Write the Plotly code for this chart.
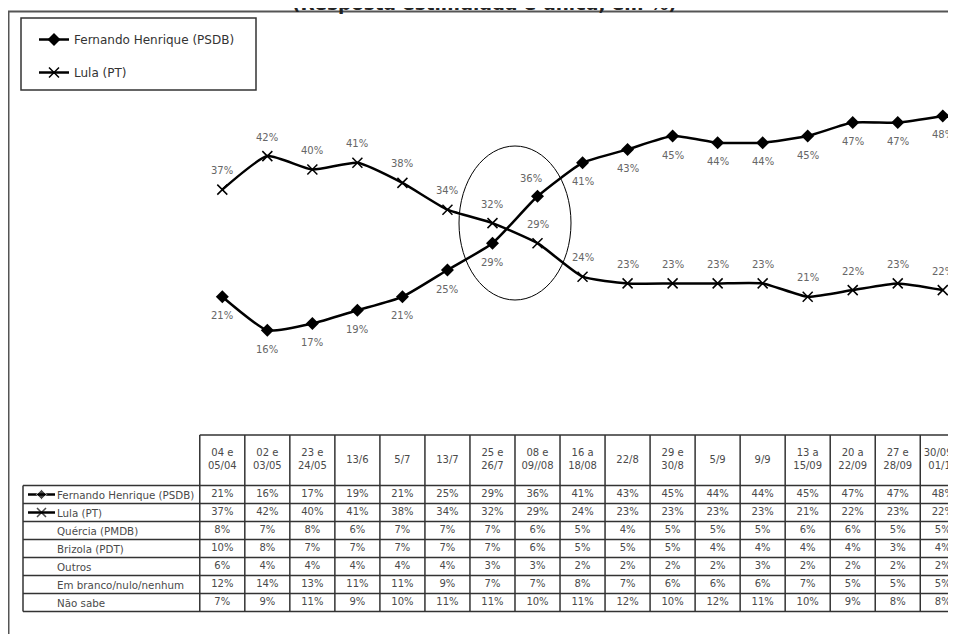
import plotly.graph_objects as go

# ---------------- data ----------------
dates = ["04 e<br>05/04", "02 e<br>03/05", "23 e<br>24/05", "13/6", "5/7", "13/7",
         "25 e<br>26/7", "08 e<br>09//08", "16 a<br>18/08", "22/8", "29 e<br>30/8",
         "5/9", "9/9", "13 a<br>15/09", "20 a<br>22/09", "27 e<br>28/09", "30/09 a<br>01/10"]
fh = [21, 16, 17, 19, 21, 25, 29, 36, 41, 43, 45, 44, 44, 45, 47, 47, 48]
lula = [37, 42, 40, 41, 38, 34, 32, 29, 24, 23, 23, 23, 23, 21, 22, 23, 22]
quercia = [8, 7, 8, 6, 7, 7, 7, 6, 5, 4, 5, 5, 5, 6, 6, 5, 5]
brizola = [10, 8, 7, 7, 7, 7, 7, 6, 5, 5, 5, 4, 4, 4, 4, 3, 4]
outros = [6, 4, 4, 4, 4, 4, 3, 3, 2, 2, 2, 2, 3, 2, 2, 2, 2]
branco = [12, 14, 13, 11, 11, 9, 7, 7, 8, 7, 6, 6, 6, 7, 5, 5, 5]
nao_sabe = [7, 9, 11, 9, 10, 11, 11, 10, 11, 12, 10, 12, 11, 10, 9, 8, 8]

row_names = ["Fernando Henrique (PSDB)", "Lula (PT)", "Quércia (PMDB)", "Brizola (PDT)",
             "Outros", "Em branco/nulo/nenhum", "Não sabe"]
row_values = [fh, lula, quercia, brizola, outros, branco, nao_sabe]
title_text = "(Resposta estimulada e única, em %)"

# ---------------- style / layout constants ----------------
W, H = 956, 634
OFF = 8            # page body margin offset
FONT = "DejaVu Sans"
LBL_COLOR = "#666666"
TBL_COLOR = "#4a4a4a"
GRID = "#333333"
n = len(dates)
xs = list(range(n))

# screen-pixel geometry of the axes
X0_PX, X_STEP = 222.3, 45.03      # column 0 centre, column spacing
Y0_PX, Y_STEP = 437.5, 6.70       # 0 % position, px per %
ROW0_PX, ROW_H = 485.5, 18.0      # top of first table row, row height
HEAD_TOP_PX = 435.0


def xr(px):
    return (px - X0_PX) / X_STEP


def yr(px):
    return (Y0_PX - px) / Y_STEP


def y2r(px):
    return (px - ROW0_PX) / ROW_H - 0.5


def px_x(px):
    return (px - OFF) / W


def px_y(px):
    return 1 - (px - OFF) / H


X_RANGE = [xr(OFF), xr(OFF + W)]
Y_RANGE = [yr(OFF + H), yr(OFF)]
Y2_RANGE = [y2r(OFF + H), y2r(OFF)]
HEADER_TOP = y2r(HEAD_TOP_PX)
HEADER_BOT = -0.5
LABEL_LEFT = xr(23)
COL_LEFT = -0.5

fig = go.Figure()

# main lines
fig.add_trace(go.Scatter(
    x=xs, y=fh, name="Fernando Henrique (PSDB)", mode="lines+markers",
    line=dict(color="black", width=2.5, shape="spline", smoothing=0.5),
    marker=dict(symbol="diamond", size=10, color="black"),
    legendgroup="fh", cliponaxis=False))
fig.add_trace(go.Scatter(
    x=xs, y=lula, name="Lula (PT)", mode="lines+markers",
    line=dict(color="black", width=2.5, shape="spline", smoothing=0.5),
    marker=dict(symbol="x-thin", size=10, color="black",
                line=dict(color="black", width=1.5)),
    legendgroup="lula", cliponaxis=False))

annotations = []
# data labels
for i, v in enumerate(fh):
    above = (v == 36)
    annotations.append(dict(x=i, y=v, xref="x", yref="y", text=f"{v}%", showarrow=False,
                            font=dict(family=FONT, size=10, color=LBL_COLOR),
                            yshift=18 if above else -19, xshift=-7 if above else 0))
for i, v in enumerate(lula):
    annotations.append(dict(x=i, y=v, xref="x", yref="y", text=f"{v}%",
                            showarrow=False,
                            font=dict(family=FONT, size=10, color=LBL_COLOR),
                            yshift=19))

# table cell values
for r, vals in enumerate(row_values):
    fig.add_trace(go.Scatter(
        x=xs, y=[r] * n, yaxis="y2", mode="text", text=[f"{v}%" for v in vals],
        textposition="middle center", showlegend=False, hoverinfo="skip",
        textfont=dict(family=FONT, size=10, color=TBL_COLOR), cliponaxis=False))

# header text
fig.add_trace(go.Scatter(
    x=xs, y=[(HEADER_TOP + HEADER_BOT) / 2] * n, yaxis="y2", mode="text", text=dates,
    textposition="middle center", showlegend=False, hoverinfo="skip",
    textfont=dict(family=FONT, size=10, color=TBL_COLOR), cliponaxis=False))

# row labels
for r, name in enumerate(row_names):
    annotations.append(dict(x=xr(57), y=r, xref="x", yref="y2", text=name, showarrow=False,
                            xanchor="left", xshift=-2,
                            font=dict(family=FONT, size=10.3, color=TBL_COLOR)))

# row-label symbols for the two candidates
sym_x = [xr(28), xr(41.5), xr(55)]
fig.add_trace(go.Scatter(
    x=sym_x, y=[0, 0, 0], yaxis="y2", mode="lines+markers",
    line=dict(color="black", width=2.5),
    marker=dict(symbol="diamond", size=[0, 8, 0], color="black"),
    showlegend=False, hoverinfo="skip", cliponaxis=False))
fig.add_trace(go.Scatter(
    x=sym_x, y=[1, 1, 1], yaxis="y2", mode="lines+markers",
    line=dict(color="black", width=2.5),
    marker=dict(symbol="x-thin", size=[0, 9, 0], color="black",
                line=dict(color="black", width=1.5)),
    showlegend=False, hoverinfo="skip", cliponaxis=False))

shapes = []
nrows = len(row_names)
tbl_line = dict(color=GRID, width=1.5)
for c in range(n + 1):
    shapes.append(dict(type="line", xref="x", yref="y2", x0=COL_LEFT + c, x1=COL_LEFT + c,
                       y0=HEADER_TOP, y1=nrows - 0.5, line=tbl_line))
shapes.append(dict(type="line", xref="x", yref="y2", x0=LABEL_LEFT, x1=LABEL_LEFT,
                   y0=-0.5, y1=nrows - 0.5, line=tbl_line))
shapes.append(dict(type="line", xref="x", yref="y2", x0=COL_LEFT, x1=COL_LEFT + n,
                   y0=HEADER_TOP, y1=HEADER_TOP, line=tbl_line))
for r in range(nrows + 1):
    shapes.append(dict(type="line", xref="x", yref="y2", x0=LABEL_LEFT, x1=COL_LEFT + n,
                       y0=r - 0.5, y1=r - 0.5, line=tbl_line))

# ellipse around the crossing
shapes.append(dict(type="circle", xref="x", yref="y", x0=xr(459), x1=xr(571),
                   y0=yr(300), y1=yr(146), line=dict(color="black", width=1)))

# outer frame
shapes.append(dict(type="rect", xref="paper", yref="paper", x0=px_x(8.5), x1=1.2,
                   y0=-0.2, y1=px_y(11.5), line=dict(color="#555555", width=2)))
# legend frame
shapes.append(dict(type="rect", xref="paper", yref="paper", x0=px_x(21), x1=px_x(256),
                   y0=px_y(90), y1=px_y(18), line=dict(color="#333333", width=1.5)))

# title (cut at the top edge, as in the source image)
annotations.append(dict(x=px_x(484), y=px_y(16), xref="paper", yref="paper",
                        text=f"<b>{title_text}</b>",
                        showarrow=False, yanchor="bottom",
                        font=dict(family=FONT, size=18.4, color="#222222")))

fig.update_layout(
    width=W, height=H, margin=dict(l=0, r=0, t=0, b=0),
    paper_bgcolor="white", plot_bgcolor="white",
    xaxis=dict(range=X_RANGE, visible=False, fixedrange=True),
    yaxis=dict(range=Y_RANGE, visible=False, fixedrange=True),
    yaxis2=dict(range=Y2_RANGE, visible=False, overlaying="y", fixedrange=True),
    showlegend=True,
    legend=dict(x=px_x(34), y=px_y(25), xanchor="left", yanchor="top",
                bgcolor="rgba(0,0,0,0)", borderwidth=0, tracegroupgap=14,
                font=dict(family=FONT, size=12, color="#333333")),
    shapes=shapes, annotations=annotations,
)

fig.write_html("out.html")
